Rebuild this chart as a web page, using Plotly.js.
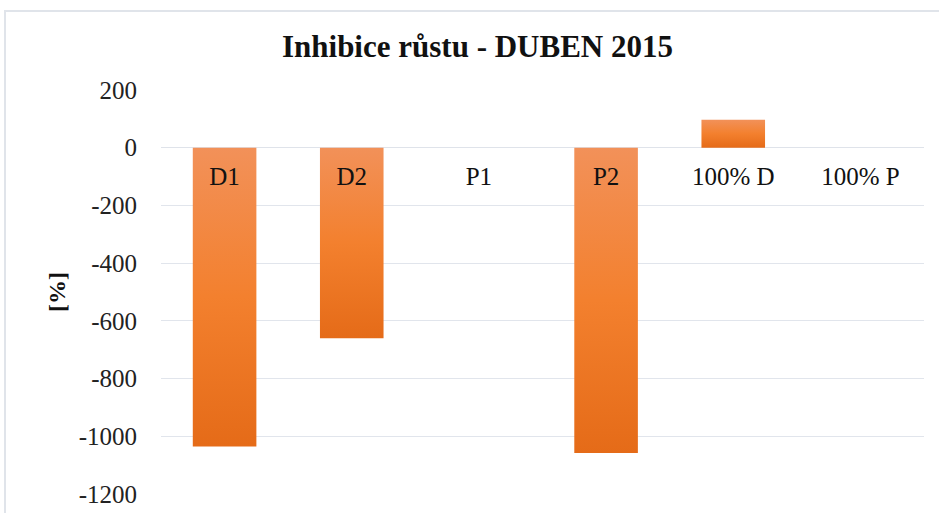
<!DOCTYPE html>
<html>
<head>
<meta charset="utf-8">
<script src="https://cdn.plot.ly/plotly-3.0.1.min.js"></script>
<style>
  html, body { margin: 0; padding: 0; background: #ffffff; overflow: hidden; }
  #chart { position: absolute; left: 0; top: 0; width: 939px; height: 513px; }
  #frame { position: absolute; left: 4px; top: 10px; width: 940px; height: 520px;
           border: 2px solid #e0e4ea; pointer-events: none; box-sizing: border-box; }
</style>
</head>
<body>
<div id="chart"></div>
<div id="frame"></div>
<script>
// ---- data ----
const categories = ['D1', 'D2', 'P1', 'P2', '100% D', '100% P'];
const values = [-1035, -660, 0, -1058, 97, 0];
const yTickValues = [200, 0, -200, -400, -600, -800, -1000, -1200];
const yTickLabels = ['200', '0', '-200', '-400', '-600', '-800', '-1000', '-1200'];
const chartTitle = 'Inhibice růstu - DUBEN 2015';
const yTitle = '[%]';

const serif = '"Liberation Serif", "Times New Roman", Times, serif';
const yMin = -1200, yMax = 200;

const trace = {
  type: 'bar',
  x: categories,
  y: values,
  marker: { color: '#f07f30', line: { width: 0 } },
  hoverinfo: 'x+y'
};

const layout = {
  width: 939,
  height: 513,
  margin: { l: 161, r: 15, t: 90, b: 19 },
  paper_bgcolor: '#ffffff',
  plot_bgcolor: '#ffffff',
  showlegend: false,
  bargap: 0.5,
  title: {
    text: '<b>' + chartTitle + '</b>',
    font: { family: serif, size: 31, color: '#111111' },
    xref: 'container', x: 0.5085, xanchor: 'center',
    yref: 'container', y: 0.91, yanchor: 'middle'
  },
  xaxis: {
    type: 'category',
    anchor: 'free',
    position: (0 - yMin) / (yMax - yMin),
    showline: false,
    showgrid: false,
    zeroline: false,
    ticks: 'outside',
    ticklen: 6,
    tickcolor: 'rgba(0,0,0,0)',
    tickfont: { family: serif, size: 25, color: '#111111' }
  },
  yaxis: {
    range: [yMin, yMax],
    tickmode: 'array',
    tickvals: yTickValues,
    ticktext: yTickLabels,
    showgrid: true,
    gridcolor: '#e1e5ec',
    gridwidth: 1,
    zeroline: true,
    zerolinecolor: '#dfe3ea',
    zerolinewidth: 1,
    showline: false,
    ticks: 'outside',
    ticklen: 18,
    tickcolor: 'rgba(0,0,0,0)',
    tickfont: { family: serif, size: 25, color: '#222222' },
    title: {
      text: '<b>' + yTitle + '</b>',
      font: { family: serif, size: 24, color: '#111111' },
      standoff: 6
    }
  }
};

function applyGradient() {
  const svg = document.querySelector('#chart .main-svg');
  if (!svg) return;
  const ns = 'http://www.w3.org/2000/svg';
  let defs = svg.querySelector('defs');
  if (!defs) { defs = document.createElementNS(ns, 'defs'); svg.insertBefore(defs, svg.firstChild); }
  if (!document.getElementById('barGrad')) {
    const g = document.createElementNS(ns, 'linearGradient');
    g.setAttribute('id', 'barGrad');
    g.setAttribute('x1', '0'); g.setAttribute('y1', '0');
    g.setAttribute('x2', '0'); g.setAttribute('y2', '1');
    const stops = [['0', '#f29159'], ['0.5', '#f3802e'], ['1', '#e56b18']];
    stops.forEach(function (s) {
      const st = document.createElementNS(ns, 'stop');
      st.setAttribute('offset', s[0]);
      st.setAttribute('stop-color', s[1]);
      g.appendChild(st);
    });
    defs.appendChild(g);
  }
  document.querySelectorAll('#chart .barlayer .point path').forEach(function (p) {
    p.style.fill = 'url(#barGrad)';
  });
}

Plotly.newPlot('chart', [trace], layout, { displayModeBar: false, staticPlot: true }).then(applyGradient);
</script>
</body>
</html>
